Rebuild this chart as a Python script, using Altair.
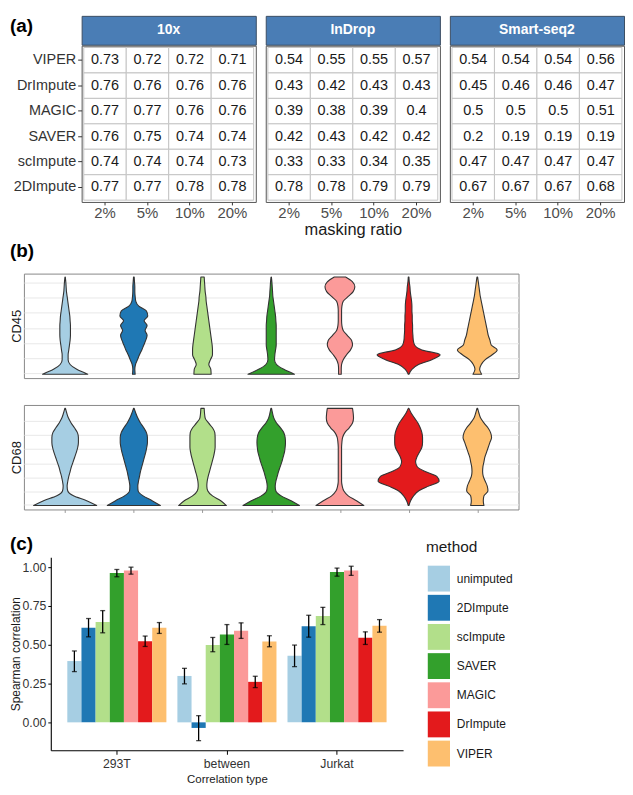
import altair as alt
import pandas as pd

FONT = "Liberation Sans"

# ---------------- (a) imputation accuracy tables ----------------
ROW_METHODS = ["VIPER", "DrImpute", "MAGIC", "SAVER", "scImpute", "2DImpute"]
RATIOS = ["2%", "5%", "10%", "20%"]
PLATFORMS = ["10x", "InDrop", "Smart-seq2"]
VALS_10X = [
    [0.73, 0.72, 0.72, 0.71],
    [0.76, 0.76, 0.76, 0.76],
    [0.77, 0.77, 0.76, 0.76],
    [0.76, 0.75, 0.74, 0.74],
    [0.74, 0.74, 0.74, 0.73],
    [0.77, 0.77, 0.78, 0.78],
]
VALS_INDROP = [
    [0.54, 0.55, 0.55, 0.57],
    [0.43, 0.42, 0.43, 0.43],
    [0.39, 0.38, 0.39, 0.4],
    [0.42, 0.43, 0.42, 0.42],
    [0.33, 0.33, 0.34, 0.35],
    [0.78, 0.78, 0.79, 0.79],
]
VALS_SMARTSEQ2 = [
    [0.54, 0.54, 0.54, 0.56],
    [0.45, 0.46, 0.46, 0.47],
    [0.5, 0.5, 0.5, 0.51],
    [0.2, 0.19, 0.19, 0.19],
    [0.47, 0.47, 0.47, 0.47],
    [0.67, 0.67, 0.67, 0.68],
]
TABLES = [VALS_10X, VALS_INDROP, VALS_SMARTSEQ2]

# ---------------- (b) violins ----------------
METHODS = ["unimputed", "2DImpute", "scImpute", "SAVER", "MAGIC", "DrImpute", "VIPER"]
COLORS = ["#a6cee3", "#1f78b4", "#b2df8a", "#33a02c", "#fb9a99", "#e31a1c", "#fdbf6f"]
METHOD_POS = [1, 2, 3, 4, 5, 6, 7]
LEVELS = [0.0, 0.05, 0.1, 0.15, 0.2, 0.25, 0.3, 0.35, 0.4, 0.45, 0.5,
          0.55, 0.6, 0.65, 0.7, 0.75, 0.8, 0.85, 0.9, 0.95, 1.0]
CD45_DENSITY = {
    "unimputed": [68, 35, 15, 9, 9, 11, 13, 15, 16, 16, 16, 15, 14, 12, 10, 8, 6, 4, 3, 2, 0.5],
    "2DImpute": [4, 3, 5, 11, 17, 24, 30, 36, 40, 34, 40, 31, 42, 38, 15, 6, 4, 3, 3, 2, 1],
    "scImpute": [26, 25, 19, 24, 30, 30, 29, 27, 25, 23, 21, 19, 17, 15, 13, 11, 10, 8, 7, 6, 5],
    "SAVER": [70, 38, 16, 10, 11, 13, 15, 15, 15, 15, 15, 14, 13, 11, 9, 7, 5, 4, 3, 2, 0.5],
    "MAGIC": [4, 4, 5, 10, 20, 32, 38, 35, 22, 10, 6, 5, 5, 5, 6, 10, 25, 40, 45, 38, 17],
    "DrImpute": [1, 10, 30, 70, 95, 40, 18, 14, 13, 12, 12, 11, 11, 10, 10, 9, 7, 5, 4, 2, 1],
    "VIPER": [13, 7, 12, 24, 45, 60, 42, 38, 33, 30, 27, 24, 21, 18, 15, 12, 9, 7, 5, 3, 1],
}
CD68_DENSITY = {
    "unimputed": [95, 65, 25, 8, 6, 8, 11, 15, 19, 24, 29, 34, 38, 40, 40, 37, 28, 18, 10, 5, 1],
    "2DImpute": [80, 55, 28, 13, 12, 14, 17, 20, 24, 28, 32, 36, 39, 41, 41, 38, 30, 20, 12, 6, 1],
    "scImpute": [72, 55, 30, 16, 13, 14, 17, 21, 25, 29, 33, 36, 38, 38, 38, 37, 30, 18, 8, 6, 5],
    "SAVER": [85, 60, 30, 14, 12, 14, 18, 22, 27, 32, 36, 40, 42, 43, 42, 38, 28, 16, 8, 4, 1],
    "MAGIC": [72, 50, 25, 12, 7, 5, 5, 5, 5, 5, 5, 5, 5, 6, 8, 15, 28, 38, 41, 40, 38],
    "DrImpute": [1, 6, 15, 30, 60, 92, 85, 50, 26, 21, 25, 33, 40, 42, 42, 40, 35, 28, 18, 8, 1],
    "VIPER": [20, 18, 20, 32, 30, 24, 18, 16, 17, 20, 23, 28, 33, 38, 43, 40, 32, 20, 10, 5, 1],
}
CD45_GRID = [0.01, 0.166, 0.315, 0.471, 0.631, 0.79, 0.946]
CD68_GRID = [0.01, 0.147, 0.29, 0.433, 0.584, 0.727, 0.87]

# ---------------- (c) Spearman correlation bars ----------------
CORR_TYPES = ["293T", "between", "Jurkat"]
CORR_MEAN = {
    "293T": [0.395, 0.609, 0.647, 0.962, 0.979, 0.523, 0.609],
    "between": [0.299, -0.036, 0.498, 0.566, 0.590, 0.261, 0.521],
    "Jurkat": [0.429, 0.620, 0.686, 0.968, 0.979, 0.545, 0.622],
}
CORR_LO = {
    "293T": [0.327, 0.551, 0.577, 0.938, 0.955, 0.489, 0.573],
    "between": [0.248, -0.118, 0.455, 0.502, 0.541, 0.224, 0.487],
    "Jurkat": [0.359, 0.549, 0.630, 0.942, 0.947, 0.502, 0.581],
}
CORR_HI = {
    "293T": [0.460, 0.669, 0.720, 0.985, 1.000, 0.556, 0.643],
    "between": [0.348, 0.043, 0.547, 0.630, 0.641, 0.297, 0.558],
    "Jurkat": [0.498, 0.690, 0.741, 0.994, 1.006, 0.583, 0.662],
}


def spacer():
    # an empty, invisible 1px view used to make a section's left edge its origin
    return alt.Chart(pd.DataFrame({"s": [""]})).mark_text(opacity=0).encode(
        text="s:N").properties(width=1, height=1, view=alt.ViewBackground(strokeWidth=0))


# ================= build (a) =================
PANEL_W = 175
panels = []
for k, (plat, vals) in enumerate(zip(PLATFORMS, TABLES)):
    rows = []
    for r, m in enumerate(ROW_METHODS):
        for c, ratio in enumerate(RATIOS):
            rows.append({"method": m, "ratio": ratio, "value": vals[r][c]})
    df = pd.DataFrame(rows)

    xaxis_kw = dict(labelAngle=0, labelFontSize=15, labelColor="#4d4d4d", tickColor="#333",
                    tickSize=3, labelPadding=1, domain=False, titleFontSize=16.5,
                    titleFontWeight="normal", titleColor="#1a1a1a", titlePadding=1)
    xaxis_kw["title"] = "masking ratio" if k == 1 else None
    x = alt.X("ratio:N", sort=RATIOS, scale=alt.Scale(paddingInner=0, paddingOuter=0.05),
              axis=alt.Axis(**xaxis_kw))
    if k == 0:
        y = alt.Y("method:N", sort=ROW_METHODS, scale=alt.Scale(paddingInner=0, paddingOuter=0.07),
                  axis=alt.Axis(title=None, labelFontSize=14.5, labelColor="#333", tickColor="#333",
                                tickSize=4, labelPadding=2, domain=False))
    else:
        y = alt.Y("method:N", sort=ROW_METHODS, scale=alt.Scale(paddingInner=0, paddingOuter=0.07),
                  axis=None)
    base = alt.Chart(df).encode(x=x, y=y)
    cells = base.mark_rect(fill="white", stroke="#c4c4c4", strokeWidth=1)
    txt = base.mark_text(fontSize=14.5, color="#1a1a1a").encode(text="value:Q")
    table = alt.layer(cells, txt).properties(
        width=PANEL_W, height=157,
        view=alt.ViewBackground(fill="white", stroke="#555555", strokeWidth=1))

    strip_txt = alt.Chart(pd.DataFrame({"platform": [plat]})).mark_text(
        color="white", fontWeight="bold", fontSize=14, baseline="middle").encode(
        text="platform:N", x=alt.X("platform:N", axis=None))
    layers = [strip_txt]
    if k == 0:
        lab = alt.Chart(pd.DataFrame({"lab": ["(a)"]})).mark_text(
            fontSize=19, fontWeight="bold", align="left", baseline="middle", color="black").encode(
            text="lab:N", x=alt.value(-72), y=alt.value(10))
        layers.append(lab)
    strip = alt.layer(*layers).properties(
        width=PANEL_W, height=29,
        view=alt.ViewBackground(fill="#4a7db5", stroke="#3b4e63", strokeWidth=1))
    panels.append(alt.vconcat(strip, table, spacing=1, bounds="flush"))

sec_a = alt.hconcat(spacer(), alt.hconcat(*panels, spacing=8), spacing=0)

# ================= build (b) =================
def violin_panel(gene, dens, grid, label, show_ticks):
    rows = []
    for m, p in zip(METHODS, METHOD_POS):
        for lv, d in zip(LEVELS, dens[m]):
            rows.append({"vmethod": m, "pos": p, "level": lv, "dens": d})
    df = pd.DataFrame(rows)
    if show_ticks:
        xaxis = alt.Axis(values=METHOD_POS, labels=False, domain=False, ticks=True, tickSize=3,
                         tickColor="#999999", grid=False, title=None)
    else:
        xaxis = None
    area = alt.Chart(df).transform_calculate(
        xl="datum.pos - datum.dens * 0.00483",
        xr="datum.pos + datum.dens * 0.00483",
    ).mark_area(orient="horizontal", interpolate="monotone", stroke="#333333",
                strokeWidth=1.1, strokeJoin="round").encode(
        x=alt.X("xl:Q", scale=alt.Scale(domain=[0.4, 7.6], nice=False, zero=False), axis=xaxis),
        x2="xr:Q",
        y=alt.Y("level:Q", scale=alt.Scale(domain=[-0.04, 1.035], nice=False, zero=False),
                axis=alt.Axis(values=grid, labels=False, ticks=False, domain=False, grid=True,
                              gridColor="#e8e8e8", gridWidth=1, title=gene, titleFontSize=13,
                              titleFontWeight="normal", titleColor="#1a1a1a", titlePadding=0)),
        color=alt.Color("vmethod:N", scale=alt.Scale(domain=METHODS, range=COLORS), legend=None),
    )
    layers = [area]
    if label:
        lab = alt.Chart(pd.DataFrame({"lab": [label]})).mark_text(
            fontSize=19, fontWeight="bold", align="left", baseline="middle", color="black").encode(
            text="lab:N", x=alt.value(-14), y=alt.value(-23))
        layers.append(lab)
    return alt.layer(*layers).properties(
        width=497, height=105,
        view=alt.ViewBackground(fill="white", stroke="#888888", strokeWidth=1))

v45 = violin_panel("CD45", CD45_DENSITY, CD45_GRID, "(b)", False)
v68 = violin_panel("CD68", CD68_DENSITY, CD68_GRID, None, True)
sec_b = alt.hconcat(spacer(), alt.vconcat(v45, v68, spacing=25), spacing=0)

# ================= build (c) =================
rows = []
for t in CORR_TYPES:
    for i, m in enumerate(METHODS):
        rows.append({"ctype": t, "bmethod": m, "mean": CORR_MEAN[t][i],
                     "lo": CORR_LO[t][i], "hi": CORR_HI[t][i]})
bdf = pd.DataFrame(rows)

yscale = alt.Scale(domain=[-0.18, 1.064], nice=False, zero=False)
base = alt.Chart(bdf).encode(
    x=alt.X("ctype:N", sort=CORR_TYPES, scale=alt.Scale(paddingInner=0.1, paddingOuter=0.15),
            axis=alt.Axis(title="Correlation type", labelAngle=0, labelFontSize=12.3,
                          labelColor="#333", domainColor="black", domainWidth=1.1,
                          tickColor="black", tickSize=4, labelPadding=3,
                          titleFontSize=11.5, titleFontWeight="normal", titleColor="#1a1a1a",
                          titlePadding=4)),
    xOffset=alt.XOffset("bmethod:N", sort=METHODS,
                        scale=alt.Scale(domain=METHODS, paddingInner=0, paddingOuter=0)),
)
bars = base.mark_bar().encode(
    y=alt.Y("mean:Q", scale=yscale,
            axis=alt.Axis(values=[0, 0.25, 0.5, 0.75, 1.0], format=".2f",
                          title="Spearman correlation", grid=False, domainColor="black",
                          domainWidth=1.1, tickColor="black", tickSize=3, labelFontSize=12.3,
                          labelColor="#333", labelPadding=2, titleFontSize=12,
                          titleFontWeight="normal", titleColor="#1a1a1a", titlePadding=0)),
    y2=alt.datum(0),
    color=alt.Color("bmethod:N", scale=alt.Scale(domain=METHODS, range=COLORS),
                    legend=alt.Legend(title="method", orient="none", legendX=377, legendY=-17,
                                      symbolType="M-0.86,-1H0.86V1H-0.86Z", symbolSize=676,
                                      symbolStrokeWidth=0, symbolOpacity=1,
                                      labelFontSize=12, labelColor="#1a1a1a", labelOffset=5,
                                      titleFontSize=15.5, titleFontWeight="normal",
                                      titleColor="#1a1a1a", titlePadding=10, rowPadding=3.3)),
)
errs = base.mark_rule(color="black", strokeWidth=1.3).encode(
    y=alt.Y("lo:Q", scale=yscale), y2="hi:Q")
cap_lo = base.mark_tick(color="black", size=5, thickness=1.3).encode(y=alt.Y("lo:Q", scale=yscale))
cap_hi = base.mark_tick(color="black", size=5, thickness=1.3).encode(y=alt.Y("hi:Q", scale=yscale))
lab_c = alt.Chart(pd.DataFrame({"lab": ["(c)"]})).mark_text(
    fontSize=19, fontWeight="bold", align="left", baseline="middle", color="black").encode(
    text="lab:N", x=alt.value(-41), y=alt.value(-13))

bar_chart = alt.layer(bars, errs, cap_lo, cap_hi, lab_c).properties(
    width=354, height=194, view=alt.ViewBackground(strokeWidth=0))
sec_c = alt.hconcat(spacer(), bar_chart, spacing=0).resolve_scale(
    color="independent").resolve_legend(color="independent")

lower = alt.vconcat(sec_b, sec_c, spacing=22).resolve_scale(
    color="independent").resolve_legend(color="independent")

chart = alt.vconcat(sec_a, lower, spacing=2).resolve_scale(
    color="independent").resolve_legend(color="independent").properties(padding=0).configure(font=FONT)

chart.save("out.html", embed_options={"renderer": "svg", "actions": False})
